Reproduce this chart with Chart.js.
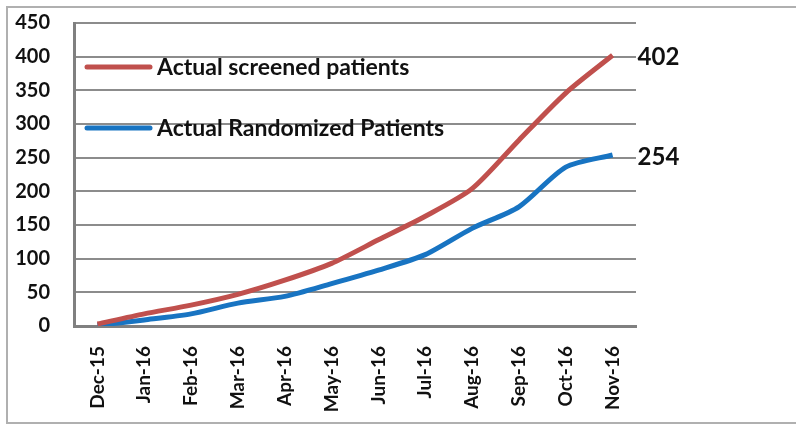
<!DOCTYPE html>
<html>
<head>
<meta charset="utf-8">
<script src="https://cdn.jsdelivr.net/npm/chart.js@4"></script>
<style>
  html, body { margin: 0; padding: 0; background: #fff; }
  #wrap { width: 796px; height: 424px; position: relative; }
</style>
</head>
<body>
<div id="wrap"><canvas id="Chart1" width="796" height="424"></canvas></div>
<script>
const months = ['Dec-15', 'Jan-16', 'Feb-16', 'Mar-16', 'Apr-16', 'May-16', 'Jun-16', 'Jul-16', 'Aug-16', 'Sep-16', 'Oct-16', 'Nov-16']
const screened = [3, 18, 31, 47, 68, 93, 128, 163, 204, 276, 346, 402]
const randomized = [1, 9, 18, 34, 44, 63, 83, 106, 145, 177, 236, 254]
const seriesNames = ['Actual screened patients', 'Actual Randomized Patients']
const seriesColors = ['#C0504D', '#1874C2']

const fontFamily = 'Lato, "Open Sans", sans-serif'

// grey frame round the whole picture
const framePlugin = {
  id: 'frame',
  beforeDraw: (chart) => {
    const ctx = chart.ctx
    ctx.save()
    ctx.strokeStyle = '#b0b0b0'
    ctx.lineWidth = 2
    ctx.strokeRect(7, 7, 800, 416)
    ctx.restore()
  }
}

// legend drawn inside the plot area, Excel style
const insideLegend = {
  id: 'insideLegend',
  afterDatasetsDraw: (chart) => {
    const ctx = chart.ctx
    const area = chart.chartArea
    ctx.save()
    chart.data.datasets.forEach((ds, i) => {
      const y = area.top + 44 + i * 61
      ctx.strokeStyle = ds.borderColor
      ctx.lineWidth = 5
      ctx.lineCap = 'round'
      ctx.beginPath()
      ctx.moveTo(area.left + 13, y)
      ctx.lineTo(area.left + 76, y)
      ctx.stroke()
      ctx.fillStyle = '#111'
      ctx.font = `bold 23px ${fontFamily}`
      ctx.textBaseline = 'middle'
      ctx.fillText(ds.label, area.left + 83, y + 1)
    })
    ctx.restore()
  }
}

// value of the last point written to the right of the line
const endLabels = {
  id: 'endLabels',
  afterDatasetsDraw: (chart) => {
    const ctx = chart.ctx
    ctx.save()
    ctx.font = `bold 24px ${fontFamily}`
    ctx.fillStyle = '#111'
    ctx.textBaseline = 'middle'
    chart.data.datasets.forEach((ds, i) => {
      const pts = chart.getDatasetMeta(i).data
      const last = pts[pts.length - 1]
      ctx.fillText(String(ds.data[ds.data.length - 1]), last.x + 25, last.y + 2)
    })
    ctx.restore()
  }
}

const ctx1 = document.getElementById('Chart1')
new Chart(ctx1, {
  type: 'line',
  data: {
    labels: months,
    datasets: [
      {
        label: seriesNames[0],
        data: screened,
        borderColor: seriesColors[0],
        backgroundColor: seriesColors[0],
        borderWidth: 5,
        pointRadius: 0,
        tension: 0.25,
        fill: false
      },
      {
        label: seriesNames[1],
        data: randomized,
        borderColor: seriesColors[1],
        backgroundColor: seriesColors[1],
        borderWidth: 5,
        pointRadius: 0,
        tension: 0.25,
        fill: false
      }
    ]
  },
  options: {
    responsive: false,
    animation: false,
    layout: { padding: { left: 0, right: 160, top: 23, bottom: 0 } },
    plugins: {
      legend: { display: false },
      tooltip: { enabled: false }
    },
    scales: {
      x: {
        offset: true,
        grid: { display: false, offset: true },
        border: { color: '#808080', width: 3 },
        ticks: {
          color: '#111',
          font: { family: fontFamily, size: 19, weight: 'bold' },
          minRotation: 90,
          maxRotation: 90,
          padding: 12,
          autoSkip: false
        },
        afterFit: (scale) => {
          scale.height = 98
          scale.paddingLeft = 0
          scale.paddingRight = 0
        }
      },
      y: {
        min: 0,
        max: 450,
        grid: { color: '#8c8c8c', lineWidth: 2, drawTicks: false },
        border: { color: '#808080', width: 3 },
        ticks: {
          stepSize: 50,
          color: '#111',
          font: { family: fontFamily, size: 20, weight: 'bold' },
          padding: 24
        },
        afterFit: (scale) => {
          scale.width = 74
          scale.paddingTop = 0
          scale.paddingBottom = 0
        }
      }
    }
  },
  plugins: [framePlugin, insideLegend, endLabels]
})
</script>
</body>
</html>
